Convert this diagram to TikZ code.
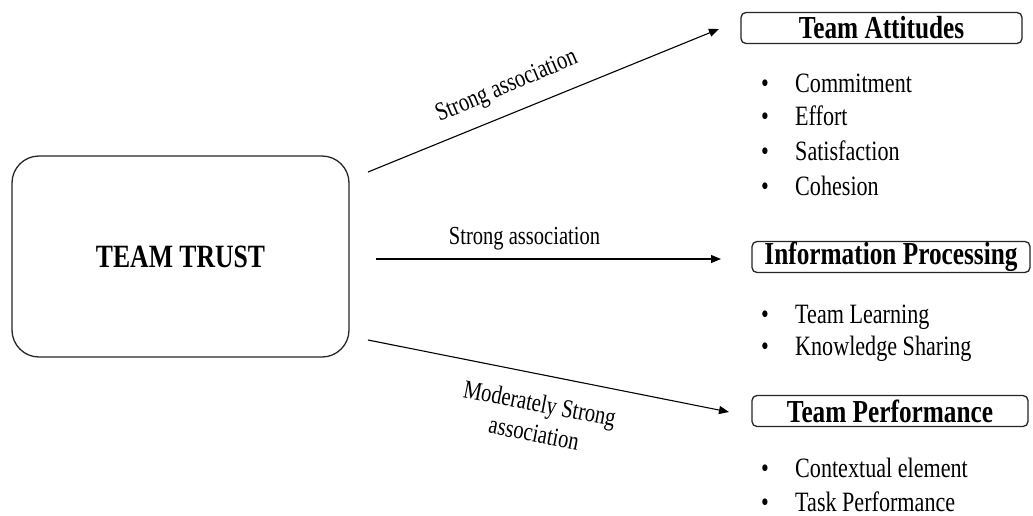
\documentclass[tikz,border=0pt]{standalone}
\usepackage{fontspec}
\setmainfont{Liberation Serif}[FakeStretch=0.79]
\usetikzlibrary{arrows.meta}
\begin{document}
\begin{tikzpicture}[x=1pt,y=-1pt,
  hub/.style={draw=black!85, line width=1.3pt, rounded corners=27pt,
    minimum width=337pt, minimum height=201pt, inner sep=0pt,
    font=\fontsize{32.5}{36}\selectfont\bfseries},
  headbox/.style={draw=black!85, line width=1.3pt, rounded corners=5pt,
    minimum height=31pt, inner sep=0pt,
    font=\fontsize{32}{36}\selectfont\bfseries},
  item/.style={anchor=base west, inner sep=0pt, font=\fontsize{28}{32}\selectfont},
  dot/.style={anchor=base, inner sep=0pt, font=\fontsize{28}{32}\selectfont},
  rel/.style={inner sep=0pt, font=\fontsize{26}{30}\selectfont},
  link/.style={line width=1.1pt, -{Triangle[length=10pt,width=8pt]}}]
\clip (0,0) rectangle (1033,515);
\fill[white] (0,0) rectangle (1033,515);

% central construct
\node[hub] (trust) at (180.5,256.5) {TEAM TRUST};

% outcome headings
\node[headbox, minimum width=281pt] (att)  at (881.5,28)  {Team Attitudes};
\node[headbox, minimum width=278pt] (info) at (891,257)   {Information Processing};
\node[headbox, minimum width=276pt] (perf) at (890,411)   {Team Performance};

% arrow end points
\coordinate (s1) at (368,172); \coordinate (e1) at (719,29);
\coordinate (s2) at (376,259); \coordinate (e2) at (721,259);
\coordinate (s3) at (368,340); \coordinate (e3) at (729,412);

\draw[link] (s1) -- (e1);
\draw[link] (s2) -- (e2);
\draw[link] (s3) -- (e3);

% association labels
\node[rel, rotate=23] (l1) at (507,87) {Strong association};
\node[rel, anchor=base] (l2) at (524.5,244) {Strong association};
\node[rel, rotate=-11, align=center] (l3) at (537,418) {Moderately Strong\\association};

% bullet lists
\node[dot] (b1) at (765,92)  {•}; \node[item] (t1) at (795,92)  {Commitment};
\node[dot] (b2) at (765,125) {•}; \node[item] (t2) at (795,125) {Effort};
\node[dot] (b3) at (765,160) {•}; \node[item] (t3) at (795,160) {Satisfaction};
\node[dot] (b4) at (765,195) {•}; \node[item] (t4) at (795,195) {Cohesion};

\node[dot] (b5) at (765,323) {•}; \node[item] (t5) at (795,323) {Team Learning};
\node[dot] (b6) at (765,355) {•}; \node[item] (t6) at (795,355) {Knowledge Sharing};

\node[dot] (b7) at (765,477) {•}; \node[item] (t7) at (795,477) {Contextual element};
\node[dot] (b8) at (765,511) {•}; \node[item] (t8) at (795,511) {Task Performance};
\end{tikzpicture}
\end{document}
